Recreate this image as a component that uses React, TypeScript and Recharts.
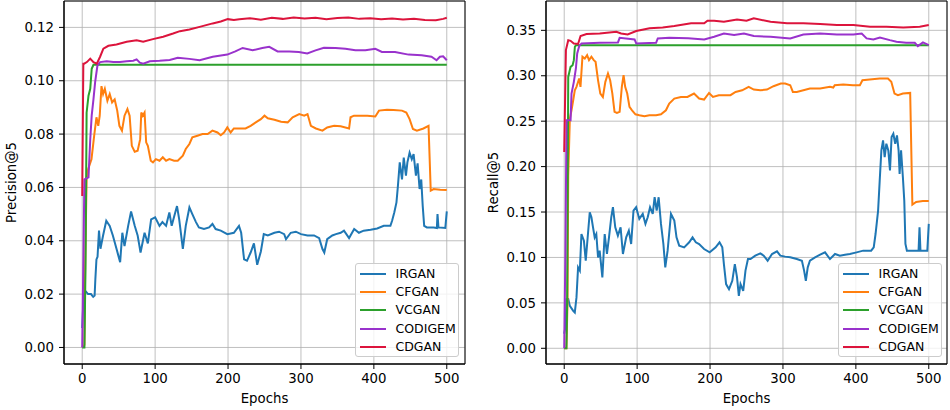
import React from "react";
import {
  LineChart,
  Line,
  XAxis,
  YAxis,
  CartesianGrid,
  Legend,
  Label,
  ReferenceArea,
} from "recharts";

type Pt = [number, number];

const models = ["IRGAN", "CFGAN", "VCGAN", "CODIGEM", "CDGAN"];
const colors = ["#1f77b4", "#ff7f0e", "#2ca02c", "#9932cc", "#dc143c"];
const epochTicks = [0, 100, 200, 300, 400, 500];
const precisionTicks = [0, 0.02, 0.04, 0.06, 0.08, 0.1, 0.12];
const recallTicks = [0, 0.05, 0.1, 0.15, 0.2, 0.25, 0.3, 0.35];

// ---- Precision@5 ----
const precIrgan: Pt[] = [
  [0, 0.0073], [2, 0.02], [5, 0.021], [8, 0.02], [12, 0.02], [15, 0.019], [17, 0.0195], [18, 0.0256],
  [19.5, 0.033], [21, 0.034], [23, 0.0438], [25, 0.037], [28.6, 0.042], [33, 0.0475], [37.7, 0.0456],
  [42, 0.042], [47, 0.037], [49, 0.035], [52, 0.032], [55, 0.043], [58, 0.038], [63, 0.0456], [67, 0.051],
  [72, 0.0456], [76, 0.042], [80, 0.0356], [85.5, 0.043], [90, 0.039], [94.5, 0.048], [100, 0.0488],
  [106, 0.0456], [110, 0.047], [115, 0.0456], [119.5, 0.0506], [122.7, 0.0456], [126, 0.049], [130, 0.053],
  [133, 0.048], [138, 0.037], [142, 0.0456], [147, 0.0525], [151, 0.05], [156, 0.047], [160, 0.045],
  [167, 0.0444], [174, 0.045], [178.6, 0.0463], [183, 0.0444], [190, 0.0438], [199, 0.0425], [208, 0.043],
  [215, 0.0456], [218, 0.043], [222, 0.033], [226, 0.0325], [231, 0.0356], [235.5, 0.039], [240, 0.031],
  [245, 0.036], [249, 0.0425], [254.5, 0.042], [263.6, 0.043], [270, 0.0434], [277, 0.0425], [279.5, 0.0406],
  [286, 0.043], [293, 0.0434], [300, 0.0425], [309, 0.042], [318, 0.042], [325, 0.041], [329.5, 0.0369],
  [332, 0.0356], [336, 0.0406], [343, 0.042], [348, 0.0425], [354.5, 0.043], [359, 0.0438], [366, 0.041],
  [373, 0.0444], [379.5, 0.043], [386, 0.0438], [395.5, 0.0441], [404.5, 0.0446], [413.6, 0.0456],
  [422.7, 0.0456], [425, 0.0475], [428, 0.0506], [431, 0.0544], [433, 0.0606], [435.5, 0.0694],
  [438.6, 0.063], [441, 0.0712], [444, 0.0644], [446, 0.0694], [449, 0.073], [452, 0.0706], [454.5, 0.0725],
  [457.7, 0.0644], [460, 0.069], [462.7, 0.0594], [465, 0.063], [467, 0.0531], [469, 0.0456], [472.7, 0.045],
  [482, 0.045], [486.4, 0.0448], [487.3, 0.05], [488.6, 0.045], [498, 0.0448], [500, 0.051],
];
const precCfgan: Pt[] = [
  [0, 0], [3, 0.001], [4, 0.03], [6, 0.0631], [8.2, 0.0669], [12.7, 0.0706], [16.4, 0.0794], [19.5, 0.0863],
  [22, 0.0831], [24, 0.0869], [26.4, 0.098], [28.6, 0.095], [31, 0.097], [34.5, 0.0925], [37.7, 0.095],
  [41, 0.0919], [44.5, 0.093], [48, 0.0888], [51, 0.0831], [54.5, 0.0813], [58, 0.0869], [62, 0.0894],
  [65, 0.0869], [68, 0.0756], [72, 0.0734], [76, 0.0738], [79.5, 0.0781], [81, 0.0881], [83, 0.0869],
  [85.5, 0.0881], [87.7, 0.0769], [90, 0.0756], [94, 0.07], [97, 0.0694], [101, 0.0706], [106, 0.07],
  [110.5, 0.0713], [115, 0.07], [119.5, 0.0706], [126, 0.07], [131, 0.07], [138, 0.0719], [142, 0.0744],
  [147, 0.0763], [151, 0.0788], [158, 0.0794], [165, 0.08], [172, 0.08], [178.6, 0.0813], [185.5, 0.0806],
  [190, 0.0796], [194.5, 0.0806], [199, 0.0825], [203.6, 0.0806], [208, 0.0821], [217, 0.0821],
  [224, 0.0821], [231, 0.0831], [238, 0.0844], [245, 0.0856], [250, 0.0869], [254.5, 0.0859],
  [263.6, 0.0854], [272.7, 0.0846], [281.8, 0.0844], [288.6, 0.0863], [297.7, 0.0875], [304.5, 0.0869],
  [309, 0.0875], [313.6, 0.0831], [320.5, 0.0821], [329.5, 0.0813], [336, 0.0825], [345.5, 0.0831],
  [354.5, 0.0829], [366, 0.0821], [368, 0.0863], [372.7, 0.0869], [391, 0.0869], [402, 0.0866],
  [407, 0.0888], [418, 0.0891], [427, 0.089], [438.6, 0.0888], [444.5, 0.0881], [449, 0.0856],
  [453.6, 0.0819], [459, 0.0813], [468, 0.0821], [475, 0.0831], [478, 0.0588], [482, 0.0594],
  [491, 0.0591], [500, 0.059],
];
const precVcgan: Pt[] = [
  [0, 0], [3, 0], [4.5, 0.03], [6, 0.088], [8.6, 0.0944], [11, 0.097], [13, 0.1045], [15.4, 0.106], [500, 0.106],
];
const precCodigem: Pt[] = [
  [0, 0], [3, 0.063], [8.6, 0.0638], [11, 0.078], [13, 0.087], [15.4, 0.093], [17.7, 0.0995], [20.9, 0.1058],
  [24.5, 0.107], [33.6, 0.1073], [42.7, 0.107], [51.8, 0.107], [61, 0.1073], [70, 0.1075], [74.6, 0.108],
  [79, 0.1068], [83.7, 0.1064], [92.7, 0.1073], [106, 0.1075], [120, 0.1078], [131, 0.1086], [147, 0.1082],
  [161, 0.1077], [179, 0.109], [199, 0.1098], [210, 0.111], [220, 0.1123], [233.7, 0.1114], [247, 0.1123],
  [256.5, 0.1127], [268, 0.111], [284, 0.111], [297, 0.1108], [308.7, 0.1102], [320, 0.1114],
  [331.5, 0.1124], [347.5, 0.1123], [361, 0.112], [374.7, 0.1114], [388.4, 0.1114], [402, 0.112],
  [411, 0.1108], [429, 0.1108], [447.5, 0.1098], [465.6, 0.1096], [479, 0.109], [486, 0.1077],
  [490.6, 0.109], [495, 0.1092], [500, 0.1077],
];
const precCdgan: Pt[] = [
  [0, 0.0568], [1.5, 0.1064], [2.7, 0.1064], [6.4, 0.107], [11, 0.1083], [15.4, 0.107], [20, 0.1064],
  [24.5, 0.109], [29, 0.112], [35.9, 0.1131], [47, 0.1136], [61, 0.1146], [74.6, 0.1152], [83.6, 0.1146],
  [97, 0.1156], [111, 0.1165], [124.6, 0.1177], [134, 0.1186], [147, 0.1192], [161, 0.1202], [179, 0.1215],
  [190, 0.1222], [199.6, 0.1231], [208, 0.1228], [215.5, 0.1231], [230, 0.1234], [245, 0.1229],
  [260, 0.1236], [275, 0.1232], [290, 0.1237], [305, 0.1233], [320, 0.1236], [335, 0.1231], [350, 0.1235],
  [365, 0.1237], [380, 0.1232], [395, 0.1234], [410, 0.1231], [425, 0.1233], [440, 0.123], [455, 0.1232],
  [470, 0.1228], [485, 0.1227], [495, 0.1232], [500, 0.1236],
];

// ---- Recall@5 ----
const recIrgan: Pt[] = [
  [0, 0.016], [2, 0.025], [3, 0.054], [5.5, 0.0541], [7.7, 0.0467], [12.3, 0.0412], [14.5, 0.0394],
  [16.8, 0.056], [19, 0.0891], [21.4, 0.0855], [23.6, 0.1258], [27, 0.1185], [29.5, 0.0964], [31.4, 0.1148],
  [35, 0.1497], [37.3, 0.1442], [39.5, 0.1332], [41.8, 0.1221], [44, 0.1258], [46.4, 0.1], [48.6, 0.1075],
  [52.3, 0.078], [55.5, 0.1258], [58.6, 0.1038], [61.4, 0.1221], [64.5, 0.1442], [66.8, 0.1553], [70, 0.1332],
  [73.6, 0.124], [77.3, 0.1332], [80.5, 0.1038], [85, 0.1221], [88.6, 0.1295], [91.8, 0.1148], [95, 0.1516],
  [98.6, 0.1553], [103, 0.1424], [107.7, 0.1479], [111.4, 0.1369], [114.5, 0.1442], [117.7, 0.1553],
  [121.4, 0.1479], [124, 0.1663], [126.8, 0.1516], [129.5, 0.1663], [132.7, 0.1369], [136, 0.1148],
  [138.6, 0.0891], [141.8, 0.1075], [146.4, 0.1479], [151, 0.1405], [154, 0.1221], [157.7, 0.113],
  [164.5, 0.1111], [171.4, 0.1167], [176, 0.1221], [180.5, 0.1167], [185, 0.1148], [191.8, 0.1093],
  [199.5, 0.1056], [207.7, 0.1111], [213, 0.1167], [216.8, 0.1111], [219, 0.0927], [222, 0.0707],
  [226, 0.0651], [230.5, 0.0743], [234, 0.0927], [237, 0.078], [239.5, 0.0578], [241.8, 0.0707],
  [245.5, 0.0633], [248.6, 0.0855], [252, 0.0983], [255.5, 0.0983], [262, 0.102], [269, 0.1045],
  [273.6, 0.102], [279, 0.0964], [285, 0.1038], [291.8, 0.1067], [296.4, 0.102], [303, 0.1009], [310, 0.1001],
  [319, 0.0983], [326, 0.0964], [329, 0.0855], [331.4, 0.0743], [334, 0.0891], [337, 0.0964], [344, 0.1001],
  [351, 0.103], [357.7, 0.1056], [364.5, 0.0983], [371.4, 0.1038], [378, 0.102], [385, 0.103],
  [391.8, 0.1038], [401, 0.1056], [410, 0.1075], [421, 0.1075], [424.5, 0.1111], [427, 0.1258],
  [430.5, 0.1516], [432.7, 0.1846], [435, 0.2178], [437.3, 0.2289], [439.5, 0.2105], [441.8, 0.2252],
  [444.5, 0.2178], [446.8, 0.1958], [449, 0.2326], [451.4, 0.2362], [454, 0.2252], [456.4, 0.2344],
  [458.6, 0.2178], [460, 0.192], [462, 0.2178], [464.5, 0.1883], [466.4, 0.1626], [468, 0.1148],
  [470, 0.1075], [486, 0.1075], [487.3, 0.1332], [488.6, 0.1075], [498, 0.1075], [500, 0.137],
];
const recCfgan: Pt[] = [
  [0, 0], [3, 0], [4.5, 0.05], [5.5, 0.19], [7.7, 0.2527], [10, 0.262], [12.3, 0.273], [14.5, 0.284],
  [16.8, 0.2878], [20.5, 0.297], [22.3, 0.2878], [25, 0.321], [28.2, 0.319], [31.4, 0.3227], [34, 0.3172],
  [37.3, 0.321], [40.5, 0.3172], [43, 0.3154], [46.4, 0.295], [49.5, 0.2804], [53, 0.2767], [56.4, 0.2933],
  [60, 0.3025], [63, 0.295], [66, 0.2804], [69, 0.2602], [72.3, 0.259], [76, 0.2602], [79, 0.2878],
  [81.4, 0.3007], [83.6, 0.2878], [86.4, 0.2804], [89.5, 0.2657], [93, 0.262], [97.7, 0.2576], [103, 0.2565],
  [110, 0.2554], [116.8, 0.2565], [126, 0.2565], [132.7, 0.2576], [139.5, 0.262], [144, 0.2694],
  [151, 0.2749], [160, 0.2767], [169, 0.2767], [178, 0.2804], [185, 0.2749], [191.8, 0.2738],
  [198.6, 0.2811], [204, 0.2767], [212, 0.2786], [221, 0.2786], [228, 0.2786], [235, 0.2822], [244, 0.284],
  [253, 0.2878], [260, 0.2848], [269, 0.284], [278, 0.2848], [287, 0.2885], [297, 0.2914], [303, 0.2914],
  [310, 0.2896], [313.6, 0.2822], [319, 0.2822], [328, 0.284], [337, 0.2859], [351, 0.2859],
  [364.5, 0.2878], [369, 0.287], [371, 0.2896], [382.7, 0.2903], [396, 0.2896], [405.5, 0.2896],
  [409, 0.295], [419, 0.2959], [432.7, 0.297], [444, 0.297], [448.6, 0.2933], [453, 0.2804],
  [457.7, 0.2786], [464.5, 0.2804], [474.5, 0.2811], [477.5, 0.1582], [482.7, 0.161], [491.8, 0.162],
  [500, 0.162],
];
const recVcgan: Pt[] = [
  [0, 0], [3, 0], [4, 0.05], [5.5, 0.2987], [8.7, 0.3098], [11.5, 0.3116], [13.2, 0.3172], [14.6, 0.3319],
  [16, 0.3335], [500, 0.3335],
];
const recCodigem: Pt[] = [
  [0, 0], [1.5, 0.1], [3.2, 0.2509], [8.7, 0.2509], [10, 0.2804], [13.2, 0.2933], [16, 0.308],
  [17.8, 0.3246], [20.5, 0.3326], [23.7, 0.3356], [48.7, 0.3363], [73.7, 0.3367], [76, 0.3418],
  [96.5, 0.34], [98.8, 0.3356], [126, 0.3363], [128.3, 0.3411], [144, 0.3418], [170, 0.3412], [192, 0.34],
  [205.6, 0.3429], [219, 0.3466], [233, 0.3448], [246.5, 0.3466], [260, 0.3437], [283, 0.3429],
  [310, 0.3411], [328, 0.3455], [351, 0.3466], [374, 0.3455], [396.6, 0.3455], [408, 0.3466],
  [414.7, 0.3411], [424, 0.34], [433, 0.3422], [446.6, 0.3392], [455.7, 0.3374], [469, 0.3363],
  [480.8, 0.3363], [485, 0.3326], [492, 0.3367], [500, 0.3337],
];
const recCdgan: Pt[] = [
  [0, 0.216], [2.3, 0.3282], [5.5, 0.3392], [8.7, 0.3385], [13.2, 0.3356], [19, 0.335], [22.4, 0.3437],
  [30.6, 0.3459], [48.7, 0.3466], [71.5, 0.3485], [78, 0.3466], [87, 0.3455], [98.8, 0.3492], [117, 0.3522],
  [135, 0.3532], [151, 0.3547], [174, 0.3577], [192, 0.3577], [196.5, 0.3606], [205.6, 0.3606],
  [219, 0.3595], [237, 0.362], [250, 0.3605], [260, 0.3632], [283, 0.3595], [305.6, 0.3577], [328, 0.3577],
  [351, 0.357], [374, 0.3559], [396.6, 0.3559], [419.4, 0.354], [442, 0.354], [465, 0.3532],
  [487.6, 0.354], [500, 0.3559],
];

const FONT = "DejaVu Sans, Verdana, sans-serif";
const X_DOMAIN: [number, number] = [-25, 525];

function toRows(pts: Pt[]) {
  return pts.map(([e, v]) => ({ e, v }));
}

function LegendBox() {
  return (
    <div
      style={{
        boxSizing: "border-box",
        width: 104,
        height: 94,
        border: "1px solid #cccccc",
        borderRadius: 3,
        background: "rgba(255,255,255,0.8)",
        paddingTop: 0.5,
        fontFamily: FONT,
        fontSize: 12.5,
        color: "#000",
      }}
    >
      {models.map((m, i) => (
        <div key={m} style={{ height: 18.4, display: "flex", alignItems: "center" }}>
          <div style={{ marginLeft: 3.5, width: 26.5, height: 2, background: colors[i] }} />
          <span style={{ marginLeft: 9.5, lineHeight: "18px" }}>{m}</span>
        </div>
      ))}
    </div>
  );
}

function YTitle(props: any) {
  const vb = props.viewBox || {};
  const x = (vb.x ?? 0) + (vb.width ?? 64) - 52.5;
  const y = 182.5;
  return (
    <text
      x={x}
      y={y}
      transform={`rotate(-90, ${x}, ${y})`}
      textAnchor="middle"
      dominantBaseline="central"
      fontSize={13.3}
      fontFamily={FONT}
      fill="#000"
      stroke="none"
    >
      {props.text}
    </text>
  );
}

function XTitle(props: any) {
  const vb = props.viewBox || {};
  const x = (vb.x ?? 0) + (vb.width ?? 400) / 2;
  const y = 403;
  return (
    <text x={x} y={y} textAnchor="middle" fontSize={13.3} fontFamily={FONT} fill="#000" stroke="none">
      Epochs
    </text>
  );
}

interface PanelProps {
  series: Pt[][];
  yDomain: [number, number];
  yTicks: number[];
  yLabel: string;
  yWidth: number;
  rightMargin: number;
  legendLeft: number;
}

function Panel({ series, yDomain, yTicks, yLabel, yWidth, rightMargin, legendLeft }: PanelProps) {
  const tickStyle = { fontSize: 13.3, fill: "#000", fontFamily: FONT, stroke: "none" };
  return (
    <LineChart width={475} height={410} margin={{ top: 1, right: rightMargin, left: 0, bottom: 0 }}>
      <CartesianGrid stroke="#b0b0b0" strokeWidth={0.8} />
      <XAxis
        type="number"
        dataKey="e"
        domain={X_DOMAIN}
        ticks={epochTicks}
        allowDataOverflow
        height={46}
        tickSize={5}
        tickMargin={5}
        stroke="#000"
        tick={tickStyle}
      >
        <Label content={(p: any) => <XTitle {...p} />} />
      </XAxis>
      <YAxis
        type="number"
        domain={yDomain}
        ticks={yTicks}
        allowDataOverflow
        width={yWidth}
        tickSize={5}
        tickMargin={5}
        stroke="#000"
        tick={tickStyle}
        tickFormatter={(v: number) => v.toFixed(2)}
      >
        <Label content={(p: any) => <YTitle {...p} text={yLabel} />} />
      </YAxis>
      {series.map((pts, i) => (
        <Line
          key={models[i]}
          data={toRows(pts)}
          dataKey="v"
          name={models[i]}
          stroke={colors[i]}
          strokeWidth={2}
          dot={false}
          activeDot={false}
          isAnimationActive={false}
        />
      ))}
      <ReferenceArea
        x1={X_DOMAIN[0]}
        x2={X_DOMAIN[1]}
        y1={yDomain[0]}
        y2={yDomain[1]}
        fill="none"
        fillOpacity={0}
        stroke="#000"
        strokeWidth={1}
        ifOverflow="visible"
      />
      <Legend
        layout="horizontal"
        verticalAlign="middle"
        align="center"
        wrapperStyle={{ left: legendLeft, top: 263, width: 104, height: 94 }}
        content={() => <LegendBox />}
      />
    </LineChart>
  );
}

export default function App() {
  return (
    <div
      style={{
        position: "absolute",
        left: 0,
        top: 0,
        width: 950,
        height: 410,
        background: "#fff",
        fontFamily: FONT,
      }}
    >
      <div style={{ position: "absolute", left: 0, top: 0 }}>
        <Panel
          series={[precIrgan, precCfgan, precVcgan, precCodigem, precCdgan]}
          yDomain={[-0.0062, 0.1299]}
          yTicks={precisionTicks}
          yLabel="Precision@5"
          yWidth={64}
          rightMargin={10}
          legendLeft={355}
        />
      </div>
      <div style={{ position: "absolute", left: 475, top: 0 }}>
        <Panel
          series={[recIrgan, recCfgan, recVcgan, recCodigem, recCdgan]}
          yDomain={[-0.0173, 0.3823]}
          yTicks={recallTicks}
          yLabel="Recall@5"
          yWidth={71}
          rightMargin={3}
          legendLeft={363}
        />
      </div>
    </div>
  );
}
